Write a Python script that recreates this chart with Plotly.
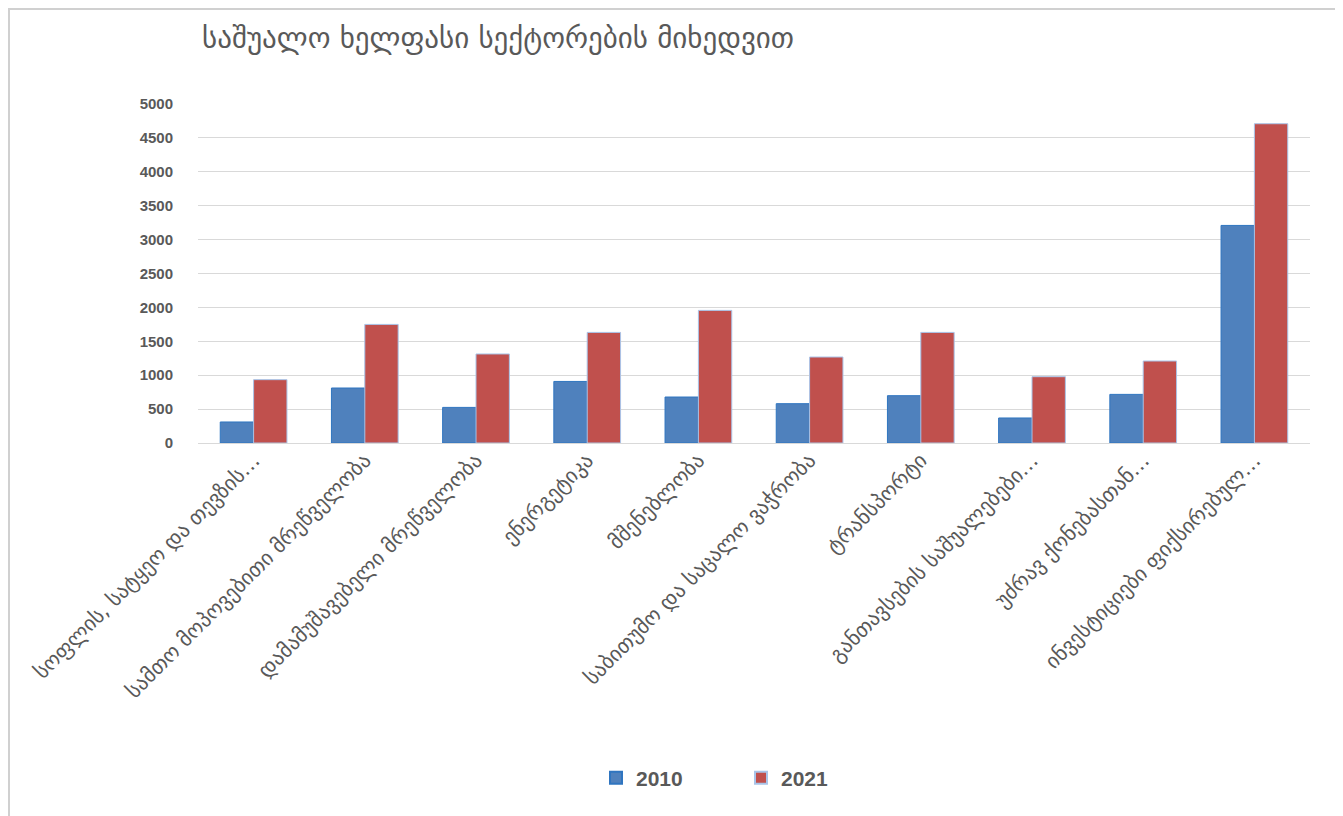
import plotly.graph_objects as go

title_text = "საშუალო ხელფასი სექტორების მიხედვით"
categories = [
    "სოფლის, სატყეო და თევზის…",
    "სამთო მოპოვებითი მრეწველობა",
    "დამამუშავებელი მრეწველობა",
    "ენერგეტიკა",
    "მშენებლობა",
    "საბითუმო და საცალო ვაჭრობა",
    "ტრანსპორტი",
    "განთავსების საშუალებები…",
    "უძრავ ქონებასთან…",
    "ინვესტიციები ფიქსირებულ…",
]
values_2010 = [310, 811, 525, 908, 678, 580, 698, 369, 717, 3209]
values_2021 = [934, 1749, 1313, 1631, 1956, 1268, 1631, 978, 1209, 4709]
y_ticks = [0, 500, 1000, 1500, 2000, 2500, 3000, 3500, 4000, 4500, 5000]

# page has an 8px body margin; work in screen coordinates and convert
OFF = 8
W, H = 1343, 816
sx0, sx1 = 198, 1310     # plot area left/right on screen
sy0, sy1 = 104, 443      # plot area top/bottom on screen
L = sx0 - OFF
R = W - (sx1 - OFF)
T = sy0 - OFF
B = H - (sy1 - OFF)
pw, ph = W - L - R, H - T - B

def px(xs):
    return (xs - OFF - L) / pw

def py(ys):
    return (H - B - (ys - OFF)) / ph

fig = go.Figure()
fig.add_trace(go.Bar(x=categories, y=values_2010, name="2010",
                     marker=dict(color="#4f81bd", line=dict(color="#2f75c0", width=1))))
fig.add_trace(go.Bar(x=categories, y=values_2021, name="2021",
                     marker=dict(color="#c0504d", line=dict(color="#a9c4e8", width=1))))

fig.update_layout(
    width=W, height=H,
    margin=dict(l=L, r=R, t=T, b=B, autoexpand=False),
    paper_bgcolor="white", plot_bgcolor="white",
    barmode="group", bargap=0.4, bargroupgap=0,
    font=dict(family="DejaVu Sans", color="#595959"),
    showlegend=True,
    legend=dict(orientation="h", x=px(596), xanchor="left", y=py(778), yanchor="middle",
                font=dict(family="Liberation Sans", size=21, color="#595959", weight="bold"),
                entrywidth=100, entrywidthmode="pixels", itemsizing="constant",
                bgcolor="rgba(0,0,0,0)"),
    xaxis=dict(tickangle=-45, tickfont=dict(family="DejaVu Sans", size=21, color="#595959"),
               showgrid=False, showline=False, ticks="", automargin=False),
    yaxis=dict(range=[0, 5000], tickvals=y_ticks, showgrid=True, gridcolor="#d9d9d9",
               gridwidth=1, zeroline=True, zerolinecolor="#d9d9d9", zerolinewidth=1,
               tickfont=dict(family="Liberation Sans", size=15, color="#595959", weight="bold"),
               ticklabelstandoff=24, automargin=False),
    annotations=[dict(text=title_text, x=px(200), y=py(38), xref="paper", yref="paper",
                      xanchor="left", yanchor="middle", showarrow=False,
                      font=dict(family="DejaVu Sans", size=29, color="#595959"))],
    shapes=[dict(type="rect", xref="paper", yref="paper",
                 x0=px(OFF + 1), x1=px(1341), y0=py(840), y1=py(OFF + 1),
                 line=dict(color="#d0d0d0", width=2), fillcolor="rgba(0,0,0,0)", layer="below")],
)

fig.write_html("out.html")
